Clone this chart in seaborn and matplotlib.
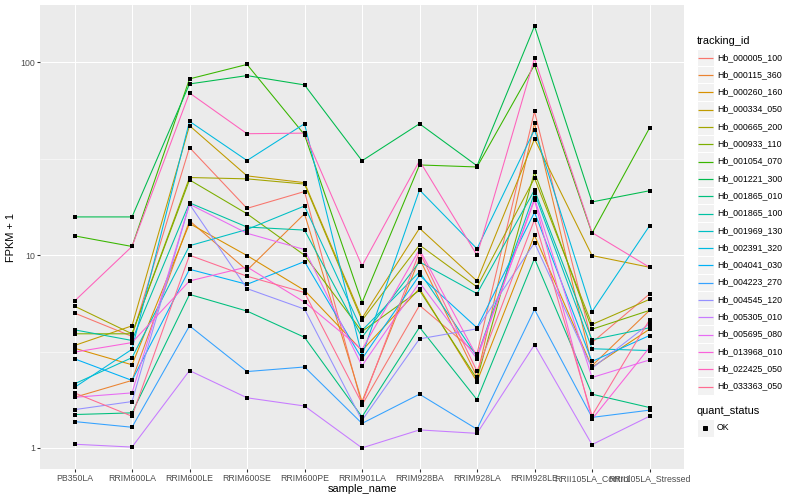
import numpy as np
import pandas as pd
import matplotlib
matplotlib.use("Agg")
import matplotlib.pyplot as plt
import seaborn as sns
from matplotlib.lines import Line2D
from matplotlib.patches import Rectangle
from matplotlib.ticker import FixedLocator, NullFormatter

# ---------------- data ----------------
samples = ["PB350LA", "RRIM600LA", "RRIM600LE", "RRIM600SE", "RRIM600PE",
           "RRIM901LA", "RRIM928BA", "RRIM928LA", "RRIM928LE",
           "RRII105LA_Control", "RRII105LA_Stressed"]

tracking_ids = ["Hb_000005_100", "Hb_000115_360", "Hb_000260_160", "Hb_000334_050",
                "Hb_000665_200", "Hb_000933_110", "Hb_001054_070", "Hb_001221_300",
                "Hb_001865_010", "Hb_001865_100", "Hb_001969_130", "Hb_002391_320",
                "Hb_004041_030", "Hb_004223_270", "Hb_004545_120", "Hb_005305_010",
                "Hb_005695_080", "Hb_013968_010", "Hb_022425_050", "Hb_033363_050"]

hb_000005_100 = [5.01, 3.79, 36.2, 17.5, 21.4, 1.67, 5.49, 3.08, 55.7, 3.52, 6.29]
hb_000115_360 = [1.83, 2.24, 15.1, 8.35, 16.4, 1.74, 9.61, 2.34, 48.5, 2.67, 5.17]
hb_000260_160 = [3.29, 2.70, 14.6, 9.96, 6.57, 3.20, 6.71, 2.21, 12.7, 2.62, 4.13]
hb_000334_050 = [3.40, 4.30, 47.0, 25.8, 23.8, 4.71, 13.8, 7.35, 40.1, 9.96, 8.66]
hb_000665_200 = [5.44, 3.91, 25.3, 24.9, 23.4, 4.59, 11.3, 6.84, 25.1, 4.37, 5.90]
hb_000933_110 = [3.91, 3.91, 24.6, 16.4, 10.0, 4.02, 6.57, 2.28, 27.0, 4.13, 5.17]
hb_001054_070 = [12.6, 11.1, 82.2, 97.7, 42.2, 5.67, 29.4, 28.7, 97.2, 13.0, 45.7]
hb_001221_300 = [15.8, 15.8, 77.4, 85.5, 76.5, 30.9, 48.1, 29.1, 154.5, 18.9, 21.6]
hb_001865_010 = [1.49, 1.52, 6.26, 5.13, 3.75, 1.45, 4.23, 1.78, 9.61, 1.90, 1.62]
hb_001865_100 = [4.10, 3.61, 18.7, 14.0, 13.5, 3.75, 9.23, 6.32, 21.8, 3.64, 4.20]
hb_001969_130 = [2.15, 2.94, 11.2, 13.6, 18.0, 4.07, 8.19, 2.98, 21.0, 3.27, 3.20]
hb_002391_320 = [2.06, 3.25, 49.5, 31.0, 48.1, 3.01, 21.8, 10.8, 44.8, 5.09, 14.2]
hb_004041_030 = [2.90, 2.24, 8.45, 7.06, 9.27, 2.90, 7.87, 4.20, 16.7, 2.81, 3.83]
hb_004223_270 = [1.37, 1.28, 4.30, 2.49, 2.63, 1.34, 1.90, 1.25, 5.23, 1.44, 1.57]
hb_004545_120 = [1.58, 1.74, 18.4, 6.71, 5.25, 1.39, 3.68, 4.15, 11.6, 2.59, 4.42]
hb_005305_010 = [1.045, 1.01, 2.52, 1.82, 1.65, 1.00, 1.24, 1.19, 3.43, 1.04, 1.46]
hb_005695_080 = [1.83, 1.93, 18.4, 13.0, 10.7, 2.67, 7.21, 2.90, 19.7, 2.32, 2.86]
hb_013968_010 = [3.14, 3.52, 7.35, 8.69, 5.71, 3.24, 10.7, 2.98, 19.3, 1.41, 3.32]
hb_022425_050 = [5.78, 11.1, 69.5, 42.7, 43.0, 8.80, 30.9, 10.0, 105.0, 13.1, 8.66]
hb_033363_050 = [1.93, 1.46, 10.0, 7.78, 6.40, 1.70, 10.4, 2.50, 15.3, 1.47, 4.62]

series_values = [hb_000005_100, hb_000115_360, hb_000260_160, hb_000334_050,
                 hb_000665_200, hb_000933_110, hb_001054_070, hb_001221_300,
                 hb_001865_010, hb_001865_100, hb_001969_130, hb_002391_320,
                 hb_004041_030, hb_004223_270, hb_004545_120, hb_005305_010,
                 hb_005695_080, hb_013968_010, hb_022425_050, hb_033363_050]

quant_levels = ["OK"]

# ggplot2 default hue palette for 20 levels
palette = ["#F8766D", "#EA8331", "#D89000", "#C09B00", "#A3A500", "#7CAE00",
           "#39B600", "#00BB4E", "#00BF7D", "#00C1A3", "#00BFC4", "#00BAE0",
           "#00B0F6", "#35A2FF", "#9590FF", "#C77CFF", "#E76BF3", "#FA62DB",
           "#FF62BC", "#FF6C91"]

rows = []
for tid, vals in zip(tracking_ids, series_values):
    for i, (s, v) in enumerate(zip(samples, vals)):
        rows.append({"tracking_id": tid, "sample_name": s, "pos": i,
                     "fpkm": v, "quant_status": "OK"})
df = pd.DataFrame(rows)

# ---------------- style ----------------
sns.set_theme(style="darkgrid", rc={
    "axes.facecolor": "#EBEBEB",
    "grid.color": "white",
    "axes.edgecolor": "#EBEBEB",
})
plt.rcParams["font.family"] = ["Liberation Sans", "DejaVu Sans"]

DPI = 72
W, H = 800, 500
fig = plt.figure(figsize=(W / DPI, H / DPI), dpi=DPI)
left, right, top, bottom = 40, 684, 5, 469
ax = fig.add_axes([left / W, 1 - bottom / H, (right - left) / W, (bottom - top) / H])

sns.lineplot(data=df, x="pos", y="fpkm", hue="tracking_id", hue_order=tracking_ids,
             palette=palette, estimator=None, sort=False, linewidth=1.07,
             legend=False, ax=ax, zorder=2)
sns.scatterplot(data=df, x="pos", y="fpkm", color="black", marker="s", s=10,
                linewidth=0, legend=False, ax=ax, zorder=3)

ax.set_yscale("log")
lo = np.log10(df["fpkm"].min())
hi = np.log10(df["fpkm"].max())
pad = 0.05 * (hi - lo)
ax.set_ylim(10 ** (lo - pad), 10 ** (hi + pad))
ax.set_xlim(-0.6, len(samples) - 1 + 0.6)

ax.yaxis.set_major_locator(FixedLocator([1, 10, 100]))
ax.set_yticklabels(["1", "10", "100"])
ax.yaxis.set_minor_locator(FixedLocator([10 ** 0.5, 10 ** 1.5]))
ax.yaxis.set_minor_formatter(NullFormatter())
ax.set_xticks(range(len(samples)))
ax.set_xticklabels(samples)

ax.grid(True, which="major", color="white", linewidth=1.07)
ax.grid(True, which="minor", axis="y", color="white", linewidth=0.53)
ax.tick_params(axis="both", which="major", length=2.75, width=1.07, color="#333333",
               labelsize=8.8, labelcolor="#4D4D4D", pad=2.2, bottom=True, left=True)
ax.tick_params(axis="y", which="minor", length=0)
for sp in ax.spines.values():
    sp.set_visible(False)

ax.set_xlabel("sample_name", fontsize=11, color="black", labelpad=1.5)
ax.set_ylabel("FPKM + 1", fontsize=11, color="black", labelpad=4)

# ---------------- legends (drawn in pixel coordinates) ----------------
lax = fig.add_axes([0, 0, 1, 1], facecolor="none")
lax.set_xlim(0, W)
lax.set_ylim(H, 0)
lax.axis("off")

kx, kw, kh = 696.5, 17.3, 17.3
lax.text(kx, 40.5, "tracking_id", fontsize=11, ha="left", va="center", color="black")
first = 57.3
for i, (tid, c) in enumerate(zip(tracking_ids, palette)):
    cy = first + i * kh
    ly = np.floor(cy) + 0.5
    lax.add_patch(Rectangle((kx, cy - kh / 2), kw, kh, facecolor="#F2F2F2",
                            edgecolor="white", linewidth=1.0))
    lax.add_line(Line2D([kx + 1.0, kx + kw - 1.0], [ly, ly], color=c,
                        linewidth=1.2, solid_capstyle="butt"))
    lax.text(kx + kw + 3.0, cy, tid, fontsize=8.8, ha="left", va="center", color="black")

lax.text(kx, 410.5, "quant_status", fontsize=11, ha="left", va="center", color="black")
for j, lev in enumerate(quant_levels):
    cy = 428 + j * kh
    lax.add_patch(Rectangle((kx, cy - kh / 2), kw, kh, facecolor="#F2F2F2",
                            edgecolor="white", linewidth=1.0))
    lax.add_line(Line2D([kx + kw / 2], [cy], marker="s", color="black",
                        linestyle="None", markersize=3.3))
    lax.text(kx + kw + 3.0, cy, lev, fontsize=8.8, ha="left", va="center", color="black")

fig.savefig("out.png", dpi=DPI)
